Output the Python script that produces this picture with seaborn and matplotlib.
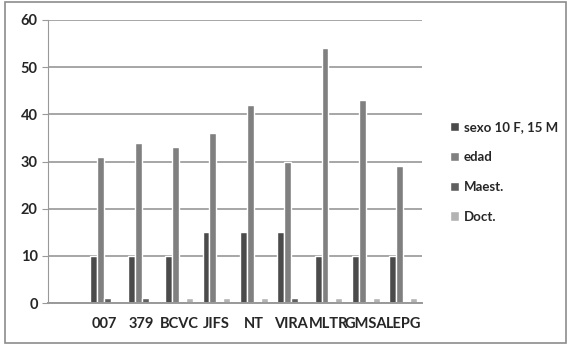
import pandas as pd
import seaborn as sns
import matplotlib.pyplot as plt
from matplotlib.patches import Rectangle
import numpy as np

# Datos
categorias = ["", "007", "379", "BCVC", "JIFS", "NT", "VIRA", "MLTR", "GMSA", "LEPG"]
sexo = [np.nan, 10, 10, 10, 15, 15, 15, 10, 10, 10]
edad = [np.nan, 31, 34, 33, 36, 42, 30, 54, 43, 29]
maest = [np.nan, 1, 1, 0, 0, 0, 1, 0, 0, 0]
doct = [np.nan, 0, 0, 1, 1, 1, 0, 1, 1, 1]
series = ["sexo 10 F, 15 M", "edad", "Maest.", "Doct."]
colores = ["#4b4b4b", "#808080", "#606060", "#b3b3b3"]

df = pd.DataFrame({"cat": categorias, series[0]: sexo, series[1]: edad,
                   series[2]: maest, series[3]: doct})
largo = df.melt(id_vars="cat", var_name="serie", value_name="valor")

sns.set_style("white")
plt.rcParams['font.family'] = ['Lato', 'DejaVu Sans']
plt.rcParams['font.weight'] = 'bold'

fig = plt.figure(figsize=(5.67, 3.44), dpi=100)
ax = fig.add_axes([0.085, 0.119, 0.659, 0.823])

sns.barplot(data=largo, x="cat", y="valor", hue="serie", order=categorias,
            hue_order=series, palette=colores, width=0.74, saturation=1,
            ax=ax, errorbar=None, legend=True)

ax.set_ylim(0, 60)
ax.set_xlim(-0.5, len(categorias) - 0.5)
ax.set_yticks(range(0, 61, 10))
ax.yaxis.grid(True, color="#a6a6a6", linewidth=1.4)
ax.set_axisbelow(True)
for s in ["top", "right"]:
    ax.spines[s].set_visible(False)
ax.spines["left"].set_color("#999999")
ax.spines["bottom"].set_color("#999999")
ax.spines["bottom"].set_linewidth(1.4)

ax.set_xticks(np.arange(-0.5, len(categorias), 1), minor=True)
ax.tick_params(axis="x", which="major", length=0, pad=10, labelsize=10.5)
ax.tick_params(axis="x", which="minor", length=5, color="#999999", direction="out")
ax.tick_params(axis="y", length=4, color="#999999", labelsize=10.5, left=True)
ax.set_xlabel("")
ax.set_ylabel("")

ax.legend(loc="center left", bbox_to_anchor=(0.772, 0.5), bbox_transform=fig.transFigure,
          frameon=False, handlelength=0.7, handleheight=0.7, handletextpad=0.4,
          labelspacing=1.35, fontsize=9.5)

fig.patches.append(Rectangle((0.008, 0.004), 0.99, 0.99, transform=fig.transFigure,
                             fill=False, edgecolor="#8c8c8c", linewidth=1.2))

plt.savefig("out.png", dpi=100)
